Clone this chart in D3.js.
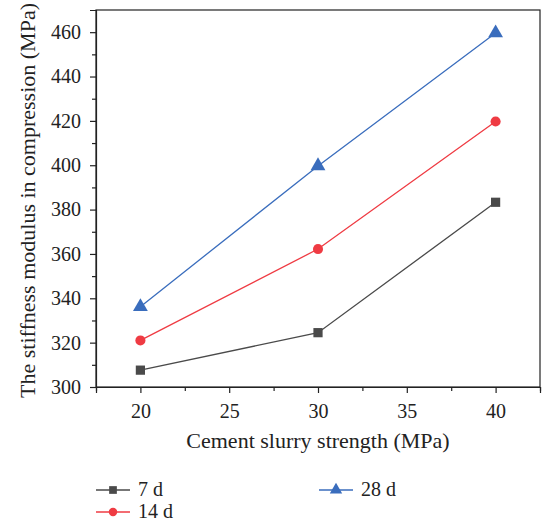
<!DOCTYPE html>
<html>
<head>
<meta charset="utf-8">
<script src="https://cdn.jsdelivr.net/npm/d3@7/dist/d3.min.js"></script>
<style>
  html, body { margin: 0; padding: 0; background: #fff; }
  svg { display: block; }
  text { font-family: "Liberation Serif", "DejaVu Serif", serif; fill: #222; }
</style>
</head>
<body>
<svg id="chart" width="542" height="522"></svg>
<script>
// Cement slurry strength (MPa) on the x axis
const strengths = [20, 30, 40];
// Stiffness modulus in compression (MPa) per curing age
const series7d = [307.6, 324.5, 383.3];
const series14d = [321.0, 362.2, 419.7];
const series28d = [336.2, 399.7, 459.6];
const seriesNames = ["7 d", "14 d", "28 d"];
const xTicks = [20, 25, 30, 35, 40];
const yTicks = [300, 320, 340, 360, 380, 400, 420, 440, 460];

const serif = '"Liberation Serif", "DejaVu Serif", serif';
const colors = { "7 d": "#4a4a4a", "14 d": "#ef3b43", "28 d": "#3a6dbd" };
const symbols = { "7 d": d3.symbolSquare, "14 d": d3.symbolCircle, "28 d": d3.symbolTriangle };
const symbolSize = { "7 d": 85, "14 d": 80, "28 d": 95 };

const svg = d3.select("#chart");
const plot = { left: 96, right: 540, top: 10, bottom: 387 };

const x = d3.scaleLinear().domain([17.5, 42.5]).range([plot.left, plot.right]);
const y = d3.scaleLinear().domain([300, 470]).range([plot.bottom, plot.top]);

// Frame
svg.append("rect")
  .attr("x", plot.left).attr("y", plot.top)
  .attr("width", plot.right - plot.left).attr("height", plot.bottom - plot.top)
  .attr("fill", "none").attr("stroke", "#222").attr("stroke-width", 1.2);

// X axis with major and minor ticks
svg.append("g").attr("transform", `translate(0,${plot.bottom})`)
  .call(d3.axisBottom(x).tickValues(xTicks).tickSize(6).tickPadding(11).tickFormat(d3.format("d")));
svg.append("g").attr("transform", `translate(0,${plot.bottom})`)
  .call(d3.axisBottom(x).tickValues(d3.range(17.5, 43, 2.5).filter(v => !xTicks.includes(v))).tickSize(4).tickFormat(""))
  .call(g => g.select(".domain").remove());

// Y axis with major and minor ticks
svg.append("g").attr("transform", `translate(${plot.left},0)`)
  .call(d3.axisLeft(y).tickValues(yTicks).tickSize(6).tickPadding(9).tickFormat(d3.format("d")));
svg.append("g").attr("transform", `translate(${plot.left},0)`)
  .call(d3.axisLeft(y).tickValues(d3.range(310, 470, 20)).tickSize(4).tickFormat(""))
  .call(g => g.select(".domain").remove());

svg.selectAll("g").attr("font-family", serif).attr("font-size", 20);
svg.selectAll(".tick text").attr("fill", "#222");
svg.selectAll(".domain, .tick line").attr("stroke", "#222").attr("stroke-width", 1.2);

// Axis titles
svg.append("text")
  .attr("x", (plot.left + plot.right) / 2 - 0).attr("y", 448)
  .attr("text-anchor", "middle").attr("font-size", 22)
  .text("Cement slurry strength (MPa)");
svg.append("text")
  .attr("transform", `translate(35,${(plot.top + plot.bottom) / 2 + 2}) rotate(-90)`)
  .attr("text-anchor", "middle").attr("font-size", 22)
  .text("The stiffness modulus in compression (MPa)");

// Series
const data = [
  { name: "7 d", values: series7d },
  { name: "14 d", values: series14d },
  { name: "28 d", values: series28d }
];
const line = d3.line().x((d, i) => x(strengths[i])).y(d => y(d));

data.forEach(s => {
  svg.append("path")
    .attr("d", line(s.values))
    .attr("fill", "none").attr("stroke", colors[s.name]).attr("stroke-width", 1.3);
  svg.selectAll(null).data(s.values).enter().append("path")
    .attr("d", d3.symbol().type(symbols[s.name]).size(symbolSize[s.name]))
    .attr("transform", (d, i) => `translate(${x(strengths[i])},${y(d)})`)
    .attr("fill", colors[s.name]);
});

// Legend
const legendPos = {
  "7 d": [96, 490],
  "28 d": [319, 490],
  "14 d": [96, 512]
};
seriesNames.forEach(name => {
  const [lx, ly] = legendPos[name];
  const g = svg.append("g").attr("transform", `translate(${lx},${ly})`);
  g.append("line").attr("x1", 0).attr("x2", 34).attr("y1", 0).attr("y2", 0)
    .attr("stroke", colors[name]).attr("stroke-width", 1.3);
  g.append("path")
    .attr("d", d3.symbol().type(symbols[name]).size(symbolSize[name] * 0.7))
    .attr("transform", "translate(17,0)")
    .attr("fill", colors[name]);
  g.append("text").attr("x", 42).attr("y", 6).attr("font-size", 20)
    .attr("font-family", serif).text(name);
});
</script>
</body>
</html>
